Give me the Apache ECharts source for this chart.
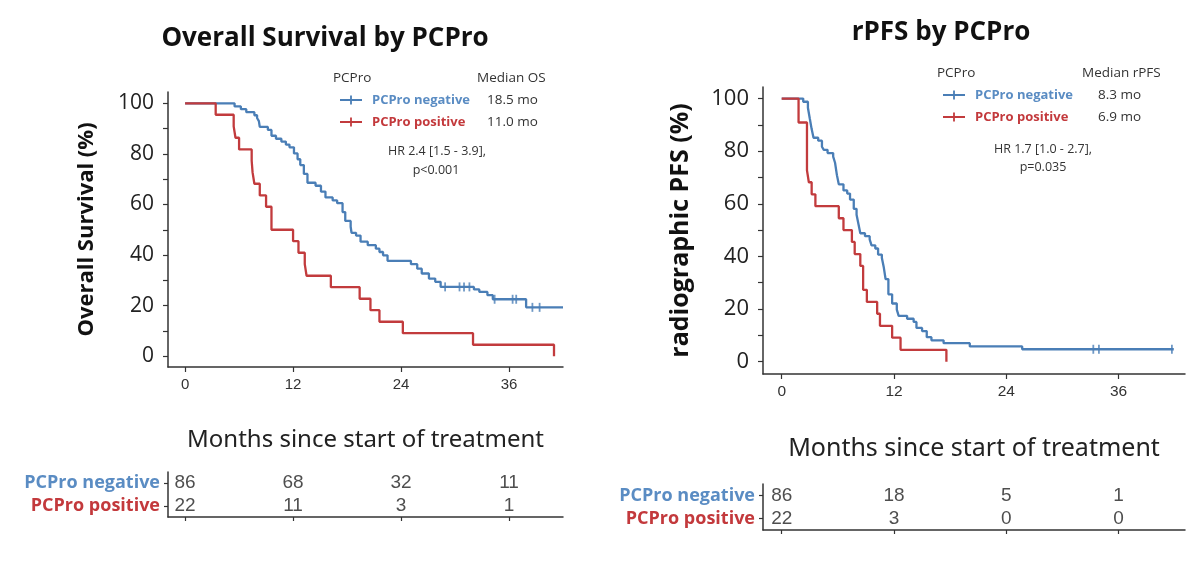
<!DOCTYPE html>
<html><head><meta charset="utf-8">
<script src="https://cdn.jsdelivr.net/npm/echarts@6/dist/echarts.min.js"></script>
<style>html,body{margin:0;padding:0;background:#fff}#c{width:1200px;height:561px}</style>
</head><body><div id="c"></div>
<script>
// ---------- data ----------
const groupNames = ['PCPro negative', 'PCPro positive'];
const monthTicks = [0, 12, 24, 36];
const pctTicks = [0, 10, 20, 30, 40, 50, 60, 70, 80, 90, 100];
const pctLabels = [0, 20, 40, 60, 80, 100];

const osTitle = 'Overall Survival by PCPro';
const pfsTitle = 'rPFS by PCPro';
const osYName = 'Overall Survival (%)';
const pfsYName = 'radiographic PFS (%)';
const xName = 'Months since start of treatment';
const osMedians = ['18.5 mo', '11.0 mo'];
const pfsMedians = ['8.3 mo', '6.9 mo'];
const osHR = ['HR 2.4 [1.5 - 3.9],', 'p<0.001'];
const pfsHR = ['HR 1.7 [1.0 - 2.7],', 'p=0.035'];

// Kaplan-Meier steps: [month, survival % after the step]
const osNeg = [[0,100],[5.5,98.8],[6.2,97.7],[6.8,96.5],[7.7,95.3],[8.0,94.2],[8.2,93.0],[8.3,90.7],[9.2,89.5],[9.6,87.2],[10.1,86.0],[10.7,84.9],[11.2,83.7],[11.6,82.6],[12.1,80.2],[12.5,77.9],[12.8,75.6],[13.2,72.1],[13.6,68.6],[14.5,67.4],[15.1,65.1],[15.6,62.8],[16.4,61.6],[16.9,60.5],[17.5,57.0],[17.8,53.5],[18.4,51.2],[18.5,48.8],[19.0,47.7],[19.5,45.3],[20.3,43.9],[21.2,42.5],[21.6,41.2],[22.0,39.9],[22.5,37.7],[25.1,36.4],[25.8,34.6],[26.3,32.7],[27.1,30.7],[27.8,29.4],[28.4,27.4],[32.1,26.4],[32.7,25.4],[33.6,24.1],[34.2,22.5],[37.9,19.3],[42.0,19.3]];
const osNegCensor = [[28.9,27.4],[30.5,27.4],[31.0,27.4],[31.6,27.4],[34.4,22.5],[36.4,22.5],[36.8,22.5],[38.6,19.3],[39.4,19.3]];
const osPos = [[0,100],[3.4,95.5],[5.4,90.9],[5.6,86.4],[6.0,81.8],[7.4,77.3],[7.5,72.7],[7.7,68.2],[8.3,63.6],[9.0,59.1],[9.6,50.0],[12.0,45.5],[12.6,40.9],[13.3,36.4],[13.5,31.8],[16.2,27.3],[19.4,22.7],[20.6,18.2],[21.6,13.6],[24.2,9.1],[32.0,4.5],[41.0,0]];

const pfsNeg = [[0,100],[2.3,98.8],[2.8,96.5],[3.0,92.4],[3.2,88.4],[3.4,85.1],[3.9,84.0],[4.3,81.7],[4.5,80.5],[4.9,79.3],[5.5,77.9],[5.7,75.6],[5.9,70.9],[6.1,67.4],[6.6,65.1],[7.0,63.9],[7.3,61.6],[7.7,58.1],[8.0,55.8],[8.2,52.3],[8.4,48.8],[8.9,47.7],[9.4,46.5],[9.6,44.2],[10.0,43.0],[10.3,40.7],[10.7,39.5],[10.9,36.0],[11.1,31.4],[11.4,25.6],[11.8,22.1],[12.3,19.8],[12.5,17.4],[13.4,16.3],[14.1,15.1],[14.4,12.8],[15.0,11.6],[15.5,9.3],[16.0,8.1],[17.3,7.0],[20.1,5.8],[25.7,4.7],[41.9,4.7]];
const pfsNegCensor = [[33.3,4.7],[33.9,4.7],[41.7,4.7]];
const pfsPos = [[0,100],[1.8,90.9],[2.7,72.7],[2.9,68.2],[3.2,63.6],[3.6,59.1],[6.1,54.5],[6.6,50.0],[7.5,45.5],[7.8,40.9],[8.4,36.4],[8.7,27.3],[9.1,22.7],[10.2,18.2],[10.5,13.6],[11.8,9.1],[12.7,4.5],[17.6,0]];

// numbers at risk at monthTicks
const osRiskNeg = [86, 68, 32, 11];
const osRiskPos = [22, 11, 3, 1];
const pfsRiskNeg = [86, 18, 5, 1];
const pfsRiskPos = [22, 3, 0, 0];

// ---------- style ----------
const BLUE = '#4a7eb6', RED = '#c23b3d';
const TXT_BLUE = '#5a8cc3', TXT_RED = '#c3393c';
const AX = '#333';
const crossIcon = 'path://M0,3.6H22V5.4H0Z M10.1,0H11.9V9H10.1Z';

const panels = [
  {kmGrid:{left:168, top:92, width:395, height:275}, xr:[-1.9,42], yr:[-4.3,104.5],
   riskGrid:{left:168, top:472, width:395, height:45},
   yName:osYName, yNameSize:22, yLabSize:21, xLabSize:15, xNameSize:24, xNameGap:61,
   neg:osNeg, pos:osPos, negC:osNegCensor, rNeg:osRiskNeg, rPos:osRiskPos},
  {kmGrid:{left:763, top:87, width:422, height:287}, xr:[-2,43.1], yr:[-4.7,104.4],
   riskGrid:{left:763, top:484, width:422, height:46},
   yName:pfsYName, yNameSize:25, yLabSize:22, xLabSize:15.5, xNameSize:25, xNameGap:62,
   neg:pfsNeg, pos:pfsPos, negC:pfsNegCensor, rNeg:pfsRiskNeg, rPos:pfsRiskPos}
];

const grids = [], xAxes = [], yAxes = [], series = [];
panels.forEach((p, i) => {
  const g = grids.length;
  grids.push(Object.assign({containLabel:false}, p.kmGrid));
  xAxes.push({gridIndex:g, type:'value', min:p.xr[0], max:p.xr[1],
    name:xName, nameLocation:'middle', nameGap:p.xNameGap,
    nameTextStyle:{fontFamily:'Noto Sans', fontSize:p.xNameSize, color:'#222'},
    axisLine:{show:true, onZero:false, lineStyle:{color:AX, width:1.5}},
    axisTick:{show:true, length:5, customValues:monthTicks, lineStyle:{color:AX, width:1.2}},
    axisLabel:{customValues:monthTicks, margin:10, fontFamily:'Liberation Sans', fontSize:p.xLabSize, color:'#333'},
    splitLine:{show:false}});
  yAxes.push({gridIndex:g, type:'value', min:p.yr[0], max:p.yr[1],
    name:p.yName, nameLocation:'middle', nameGap:70, nameRotate:90,
    nameTextStyle:{fontFamily:'Open Sans', fontWeight:'bold', fontSize:p.yNameSize, color:'#111'},
    axisLine:{show:true, onZero:false, lineStyle:{color:AX, width:1.5}},
    axisTick:{show:true, length:5, customValues:pctTicks, lineStyle:{color:AX, width:1.2}},
    axisLabel:{customValues:pctLabels, margin:14, fontFamily:'Open Sans', fontSize:p.yLabSize, color:'#222'},
    splitLine:{show:false}});
  series.push({name:groupNames[0], type:'line', step:'end', xAxisIndex:g, yAxisIndex:g, data:p.neg,
    showSymbol:false, symbol:'none', lineStyle:{color:BLUE, width:2.3}, itemStyle:{color:BLUE}, z:3});
  series.push({name:groupNames[1], type:'line', step:'end', xAxisIndex:g, yAxisIndex:g, data:p.pos,
    showSymbol:false, symbol:'none', lineStyle:{color:RED, width:2.3}, itemStyle:{color:RED}, z:4});
  series.push({name:groupNames[0] + ' censored', type:'scatter', xAxisIndex:g, yAxisIndex:g, data:p.negC,
    symbol:'rect', symbolSize:[1.8, 9], itemStyle:{color:BLUE}, z:3});

  // risk table
  const r = grids.length;
  grids.push(Object.assign({containLabel:false}, p.riskGrid));
  xAxes.push({gridIndex:r, type:'value', min:p.xr[0], max:p.xr[1],
    axisLine:{show:true, onZero:false, lineStyle:{color:AX, width:1.5}},
    axisTick:{show:true, length:4, customValues:monthTicks, lineStyle:{color:AX, width:1.2}},
    axisLabel:{show:false}, splitLine:{show:false}});
  yAxes.push({gridIndex:r, type:'category', data:[groupNames[1], groupNames[0]],
    axisLine:{show:true, onZero:false, lineStyle:{color:AX, width:1.5}},
    axisTick:{show:true, length:4, alignWithLabel:true, lineStyle:{color:AX, width:1.2}},
    axisLabel:{margin:8, formatter: v => v === groupNames[0] ? '{neg|' + v + '}' : '{pos|' + v + '}',
      rich:{neg:{color:TXT_BLUE, fontFamily:'Open Sans', fontWeight:'bold', fontSize:18},
            pos:{color:TXT_RED, fontFamily:'Open Sans', fontWeight:'bold', fontSize:18}}},
    splitLine:{show:false}});
  [[p.rNeg, groupNames[0]], [p.rPos, groupNames[1]]].forEach(([arr, nm]) => {
    series.push({name:nm + ' at risk', type:'scatter', xAxisIndex:r, yAxisIndex:r,
      data: monthTicks.map((t, k) => [t, nm, arr[k]]),
      symbolSize:0, silent:true,
      label:{show:true, position:'inside', formatter: q => String(q.value[2]),
        fontFamily:'Liberation Sans', fontSize:19, color:'#222'}});
  });
});

function legendFor(left, top, medians, nameWidth) {
  return {left, top, orient:'vertical', itemWidth:22, itemHeight:9, itemGap:8, icon:crossIcon,
    selectedMode:false, data:groupNames,
    formatter: n => (n === groupNames[0] ? '{neg|' : '{pos|') + n + '}{m|' + medians[groupNames.indexOf(n)] + '}',
    textStyle:{rich:{
      neg:{color:TXT_BLUE, fontFamily:'Open Sans', fontWeight:'bold', fontSize:13, width:nameWidth, padding:[0,0,0,5]},
      pos:{color:TXT_RED, fontFamily:'Open Sans', fontWeight:'bold', fontSize:13, width:nameWidth, padding:[0,0,0,5]},
      m:{color:'#333', fontFamily:'Open Sans', fontSize:13.5}}}};
}

function txt(text, x, y, font, align, fill) {
  return {type:'text', x, y, silent:true,
    style:{text, font, fill: fill || '#222', textAlign: align || 'left', textVerticalAlign:'middle'}};
}

const option = {
  animation:false,
  backgroundColor:'#fff',
  grid:grids, xAxis:xAxes, yAxis:yAxes, series,
  legend:[legendFor(335, 88, osMedians, 115), legendFor(938, 83, pfsMedians, 123)],
  graphic:[
    txt(osTitle, 325, 39, 'bold 26px "Open Sans"', 'center', '#111'),
    txt(pfsTitle, 941, 33, 'bold 26px "Open Sans"', 'center', '#111'),
    txt('PCPro', 333, 78, '13.5px "Open Sans"', 'left', '#333'),
    txt('Median OS', 477, 78, '13.5px "Open Sans"', 'left', '#333'),
    txt(osHR[0], 437, 151, '12.5px "Open Sans"', 'center', '#333'),
    txt(osHR[1], 436, 170, '12.5px "Open Sans"', 'center', '#333'),
    txt('PCPro', 937, 73, '13.5px "Open Sans"', 'left', '#333'),
    txt('Median rPFS', 1082, 73, '13.5px "Open Sans"', 'left', '#333'),
    txt(pfsHR[0], 1043, 149, '12.5px "Open Sans"', 'center', '#333'),
    txt(pfsHR[1], 1043, 167, '12.5px "Open Sans"', 'center', '#333')
  ]
};
const chart = echarts.init(document.getElementById('c'), null, {renderer:'canvas'});
chart.setOption(option);
</script></body></html>
